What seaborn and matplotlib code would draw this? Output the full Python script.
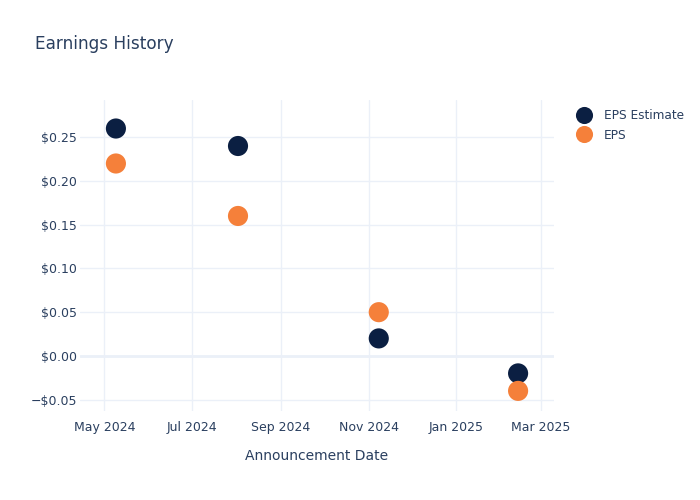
import matplotlib
matplotlib.use("Agg")
import matplotlib.pyplot as plt
import matplotlib.dates as mdates
from matplotlib.ticker import FuncFormatter, MultipleLocator
import seaborn as sns
import pandas as pd

# Data
dates = ["2024-05-09", "2024-08-02", "2024-11-08", "2025-02-13"]
eps_estimate = [0.26, 0.24, 0.02, -0.02]
eps_actual = [0.22, 0.16, 0.05, -0.04]
series_names = ["EPS Estimate", "EPS"]
series_colors = ["#0b1f42", "#f5803a"]

df = pd.DataFrame({
    "date": pd.to_datetime(dates * 2),
    "value": eps_estimate + eps_actual,
    "series": [series_names[0]] * len(dates) + [series_names[1]] * len(dates),
})

sns.set_theme(style="white")
plt.rcParams['font.family'] = ['DejaVu Sans']
text_color = "#2a3f5f"
grid_color = "#ebf0f8"

fig = plt.figure(figsize=(7, 5), dpi=100)
ax = fig.add_axes([80/700, 1-411/500, 474/700, 311/500])

ax.axhline(0, color=grid_color, lw=2, zorder=1)
sns.scatterplot(data=df, x="date", y="value", hue="series",
                palette=dict(zip(series_names, series_colors)),
                s=210, edgecolor="none", ax=ax, zorder=3)

ax.set_xlim(pd.Timestamp("2024-04-14"), pd.Timestamp("2025-03-10"))
ax.set_ylim(-0.063, 0.2926)

ax.xaxis.set_major_locator(mdates.MonthLocator(bymonth=[1, 3, 5, 7, 9, 11]))
ax.xaxis.set_major_formatter(mdates.DateFormatter("%b %Y"))
ax.yaxis.set_major_locator(MultipleLocator(0.05))

def fmt(v, pos):
    if abs(v) < 1e-9:
        return "$0.00"
    return ("\u2212$%.2f" % abs(v)) if v < 0 else ("$%.2f" % v)
ax.yaxis.set_major_formatter(FuncFormatter(fmt))

ax.grid(True, color=grid_color, lw=1, zorder=0)
ax.set_axisbelow(True)
for sp in ax.spines.values():
    sp.set_visible(False)
ax.tick_params(axis="both", length=0, labelsize=9, labelcolor=text_color)
ax.tick_params(axis="y", pad=2)
ax.tick_params(axis="x", pad=7)

ax.set_xlabel("Announcement Date", fontsize=10, color=text_color, labelpad=11)
ax.set_ylabel("")

fig.text(35/700, 1-44/500, "Earnings History", fontsize=12.2, color=text_color,
         va="center", ha="left")

leg = ax.legend(loc="upper left", bbox_to_anchor=(561/700, 1-98/500),
                bbox_transform=fig.transFigure, frameon=False,
                fontsize=8.7, handletextpad=0.65, labelspacing=0.55, markerscale=0.85)
for t in leg.get_texts():
    t.set_color(text_color)

fig.savefig("out.png", dpi=100)
